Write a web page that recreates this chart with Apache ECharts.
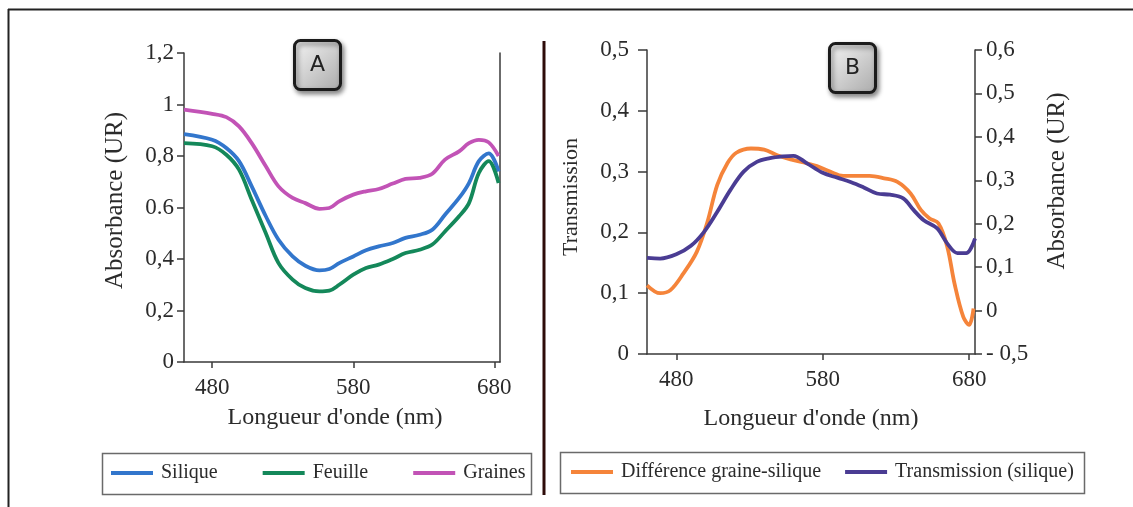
<!DOCTYPE html>
<html>
<head>
<meta charset="utf-8">
<title>Absorbance / Transmission</title>
<script src="https://cdn.jsdelivr.net/npm/echarts@6/dist/echarts.min.js"></script>
<style>
    html, body { margin: 0; padding: 0; background: #fff; }
    #main { width: 1133px; height: 507px; }
</style>
</head>
<body>
<div id="main"></div>
<script>
//données

//A : absorbance
var wlA = [460, 480, 490, 499, 508, 518, 527, 537, 546, 556, 563, 570, 580, 589, 598, 608, 617, 627, 636, 645, 655, 662, 669, 676, 683];
var silique = [0.885, 0.863, 0.831, 0.78, 0.682, 0.566, 0.475, 0.41, 0.374, 0.356, 0.361, 0.384, 0.41, 0.434, 0.449, 0.462, 0.482, 0.494, 0.514, 0.572, 0.637, 0.695, 0.78, 0.81, 0.74];
var feuille = [0.85, 0.838, 0.805, 0.747, 0.63, 0.5, 0.384, 0.32, 0.287, 0.274, 0.277, 0.3, 0.339, 0.365, 0.378, 0.4, 0.423, 0.436, 0.456, 0.507, 0.566, 0.617, 0.734, 0.78, 0.695];
var graines = [0.98, 0.964, 0.951, 0.915, 0.85, 0.76, 0.682, 0.637, 0.617, 0.595, 0.598, 0.624, 0.65, 0.663, 0.672, 0.693, 0.711, 0.715, 0.731, 0.786, 0.818, 0.85, 0.863, 0.853, 0.8];

//B : transmission
var wlTrans = [460, 469, 480, 490, 499, 508, 517, 526, 535, 544, 553, 560, 569, 580, 590, 599, 608, 617, 626, 635, 642, 649, 658, 665, 672, 678, 684];
var transmission = [0.158, 0.157, 0.164, 0.178, 0.201, 0.234, 0.27, 0.3, 0.316, 0.322, 0.325, 0.326, 0.314, 0.298, 0.29, 0.283, 0.274, 0.264, 0.262, 0.256, 0.237, 0.22, 0.207, 0.182, 0.166, 0.166, 0.19];
var wlDiff = [460, 469, 476, 485, 494, 501, 508, 515, 521, 531, 540, 549, 558, 567, 576, 585, 594, 603, 612, 622, 631, 640, 647, 653, 659, 665, 670, 676, 680, 683];
var difference = [0.113, 0.1, 0.105, 0.133, 0.168, 0.215, 0.278, 0.314, 0.331, 0.338, 0.336, 0.327, 0.32, 0.315, 0.309, 0.3, 0.293, 0.293, 0.293, 0.289, 0.283, 0.264, 0.237, 0.223, 0.215, 0.177, 0.116, 0.061, 0.048, 0.075];

//graduations
var xTicks = [480, 580, 680];
var yTicksA = ['0', '0,2', '0,4', '0.6', '0,8', '1', '1,2'];
var yTicksB = ['0', '0,1', '0,2', '0,3', '0,4', '0,5'];
var yTicksBRight = ['- 0,5', '0', '0,1', '0,2', '0,3', '0,4', '0,5', '0,6'];

function pairs(xs, ys) {
    return xs.map(function (x, i) { return [x, ys[i]]; });
}

var serif = 'Liberation Serif';
var axisColor = '#3a3a3a';
var txtColor = '#2b2b2b';

function xAxisCfg(gridIndex, left, nameGap) {
    return {
        type: 'value',
        gridIndex: gridIndex,
        min: 460,
        max: 684,
        name: "Longueur d'onde (nm)",
        nameLocation: 'middle',
        nameGap: nameGap,
        nameTextStyle: { fontFamily: serif, fontSize: 24, color: txtColor, padding: left ? [0, 14, 0, 0] : 0 },
        axisLine: { show: true, onZero: false, lineStyle: { color: axisColor, width: 1.5 } },
        axisTick: { show: true, inside: false, length: 6, customValues: xTicks, lineStyle: { color: axisColor, width: 1.5 } },
        axisLabel: { customValues: xTicks, margin: 14, fontFamily: serif, fontSize: 23, color: txtColor },
        splitLine: { show: false }
    };
}

var chart = echarts.init(document.getElementById('main'));

var labelBox = function (x, y, letter) {
    return {
        type: 'group',
        left: x,
        top: y,
        children: [
            {
                type: 'rect',
                shape: { x: 0, y: 0, width: 46, height: 49, r: 6 },
                style: {
                    fill: new echarts.graphic.LinearGradient(0, 0, 1, 1, [
                        { offset: 0, color: '#f6f6f6' },
                        { offset: 1, color: '#a9a9a9' }
                    ]),
                    stroke: '#1b1b1b',
                    lineWidth: 3,
                    shadowBlur: 5,
                    shadowOffsetX: 2,
                    shadowOffsetY: 3,
                    shadowColor: 'rgba(0,0,0,0.45)'
                }
            },
            {
                type: 'text',
                style: {
                    x: 23, y: 25, text: letter, align: 'center', verticalAlign: 'middle',
                    font: '22px "DejaVu Sans"', fill: '#222'
                }
            }
        ]
    };
};

option = {
    backgroundColor: '#fff',
    animation: false,
    grid: [
        { left: 184, top: 53, width: 316, height: 309 },
        { left: 647, top: 50, width: 328, height: 304 }
    ],
    xAxis: [
        xAxisCfg(0, true, 44),
        xAxisCfg(1, false, 53)
    ],
    yAxis: [
        {
            type: 'value',
            gridIndex: 0,
            min: 0, max: 1.2, interval: 0.2,
            name: 'Absorbance (UR)',
            nameLocation: 'middle',
            nameGap: 56,
            nameTextStyle: { fontFamily: serif, fontSize: 25, color: txtColor, padding: [0, 0, 0, 14] },
            axisLine: { show: true, lineStyle: { color: axisColor, width: 1.5 } },
            axisTick: { show: true, length: 7, lineStyle: { color: axisColor, width: 1.5 } },
            axisLabel: {
                margin: 10, fontFamily: serif, fontSize: 23, color: txtColor,
                formatter: function (v) { return yTicksA[Math.round(v / 0.2)]; }
            },
            splitLine: { show: false }
        },
        {
            //bord droit du graphe A
            type: 'value',
            gridIndex: 0,
            position: 'right',
            min: 0, max: 1.2,
            axisLine: { show: true, lineStyle: { color: axisColor, width: 1.5 } },
            axisTick: { show: false },
            axisLabel: { show: false },
            splitLine: { show: false }
        },
        {
            type: 'value',
            gridIndex: 1,
            min: 0, max: 0.5, interval: 0.1,
            name: 'Transmission',
            nameLocation: 'middle',
            nameGap: 65,
            nameTextStyle: { fontFamily: serif, fontSize: 22, color: txtColor, padding: [0, 0, 0, 10] },
            axisLine: { show: true, lineStyle: { color: axisColor, width: 1.5 } },
            axisTick: { show: true, length: 9, lineStyle: { color: axisColor, width: 1.5 } },
            axisLabel: {
                margin: 18, fontFamily: serif, fontSize: 23, color: txtColor,
                formatter: function (v) { return yTicksB[Math.round(v / 0.1)]; }
            },
            splitLine: { show: false }
        },
        {
            type: 'value',
            gridIndex: 1,
            position: 'right',
            min: 0, max: 7, interval: 1,
            name: 'Absorbance (UR)',
            nameLocation: 'middle',
            nameGap: 70,
            nameTextStyle: { fontFamily: serif, fontSize: 25, color: txtColor, padding: [0, 0, 0, 42] },
            axisLine: { show: true, lineStyle: { color: axisColor, width: 1.5 } },
            axisTick: { show: true, length: 7, lineStyle: { color: axisColor, width: 1.5 } },
            axisLabel: {
                margin: 11, fontFamily: serif, fontSize: 23, color: txtColor,
                formatter: function (v) { return yTicksBRight[Math.round(v)]; }
            },
            splitLine: { show: false }
        }
    ],
    legend: [
        {
            left: 111, top: 463, padding: 0, itemGap: 45,
            icon: 'rect', itemWidth: 42, itemHeight: 4,
            textStyle: { fontFamily: serif, fontSize: 20, color: txtColor, padding: [0, 0, 0, 3] },
            data: ['Silique', 'Feuille', 'Graines']
        },
        {
            left: 571, top: 462, padding: 0, itemGap: 24,
            icon: 'rect', itemWidth: 42, itemHeight: 4,
            textStyle: { fontFamily: serif, fontSize: 20, color: txtColor, padding: [0, 0, 0, 3] },
            data: ['Différence graine-silique', 'Transmission (silique)']
        }
    ],
    series: [
        {
            name: 'Graines', type: 'line', xAxisIndex: 0, yAxisIndex: 0,
            smooth: 0.35, showSymbol: false, color: '#c253b6',
            lineStyle: { width: 3.8 },
            data: pairs(wlA, graines)
        },
        {
            name: 'Silique', type: 'line', xAxisIndex: 0, yAxisIndex: 0,
            smooth: 0.35, showSymbol: false, color: '#3276cc',
            lineStyle: { width: 3.8 },
            data: pairs(wlA, silique)
        },
        {
            name: 'Feuille', type: 'line', xAxisIndex: 0, yAxisIndex: 0,
            smooth: 0.35, showSymbol: false, color: '#14885a',
            lineStyle: { width: 3.8 },
            data: pairs(wlA, feuille)
        },
        {
            name: 'Différence graine-silique', type: 'line', xAxisIndex: 1, yAxisIndex: 2,
            smooth: 0.35, showSymbol: false, color: '#f5843a',
            lineStyle: { width: 3.8 },
            data: pairs(wlDiff, difference)
        },
        {
            name: 'Transmission (silique)', type: 'line', xAxisIndex: 1, yAxisIndex: 2,
            smooth: 0.35, showSymbol: false, color: '#4a3c93',
            lineStyle: { width: 3.8 },
            data: pairs(wlTrans, transmission)
        }
    ],
    graphic: [
        //cadre
        { type: 'line', shape: { x1: 8, y1: 9.5, x2: 1133, y2: 9.5 }, style: { stroke: '#222', lineWidth: 2 } },
        { type: 'line', shape: { x1: 8.5, y1: 9, x2: 8.5, y2: 507 }, style: { stroke: '#222', lineWidth: 2 } },
        //séparation
        { type: 'line', shape: { x1: 544, y1: 41, x2: 544, y2: 495 }, style: { stroke: '#2e0c0a', lineWidth: 3 } },
        //cadres des légendes
        { type: 'rect', shape: { x: 102.5, y: 453.5, width: 429, height: 41 }, style: { fill: 'none', stroke: '#6a6a6a', lineWidth: 1.5 } },
        { type: 'rect', shape: { x: 560.5, y: 452.5, width: 524, height: 41 }, style: { fill: 'none', stroke: '#6a6a6a', lineWidth: 1.5 } },
        labelBox(293, 39, 'A'),
        labelBox(828, 42, 'B')
    ]
};

chart.setOption(option);
</script>
</body>
</html>
